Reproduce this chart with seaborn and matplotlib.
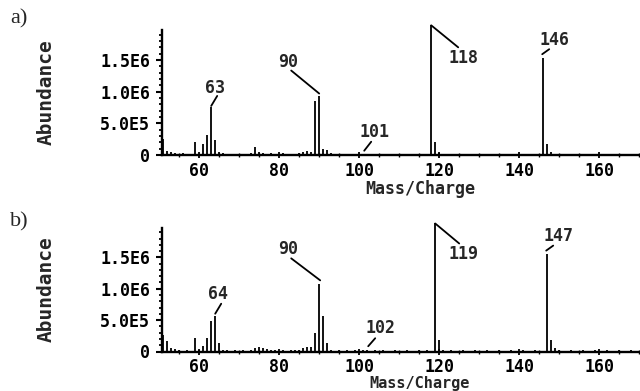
import matplotlib
matplotlib.use("Agg")
import matplotlib.pyplot as plt
import matplotlib.transforms as mtransforms
import seaborn as sns
import numpy as np
import pandas as pd

# ---------------- data ----------------
# panel a) major peaks
mz_a = [51, 59, 61, 62, 63, 64, 65, 74, 75, 86, 87, 88, 89, 90, 91, 92, 101, 118, 119, 146, 147]
ab_a = [2.5e5, 2.0e5, 1.7e5, 3.1e5, 7.6e5, 2.3e5, 0.4e5, 1.2e5, 0.5e5, 0.4e5, 0.6e5, 0.5e5,
        8.6e5, 9.4e5, 1.0e5, 0.8e5, 0.2e5, 2.05e6, 2.0e5, 1.53e6, 1.8e5]
# panel a) small baseline peaks
mz_a_small = [52, 53, 54, 56, 57, 58, 66, 67, 69, 71, 73, 76, 77, 78, 80, 81, 83, 84, 85,
              93, 95, 97, 99, 103, 105, 108, 110, 113, 116, 120, 122, 125, 128, 131,
              134, 137, 140, 143, 148, 151, 154, 157, 160, 163, 166, 169]
ab_a_small = [0.6e5, 0.5e5, 0.3e5, 0.3e5, 0.2e5, 0.2e5, 0.3e5, 0.2e5, 0.2e5, 0.2e5, 0.3e5,
              0.3e5, 0.2e5, 0.3e5, 0.2e5, 0.3e5, 0.2e5, 0.2e5, 0.3e5,
              0.3e5, 0.2e5, 0.2e5, 0.2e5, 0.2e5, 0.2e5, 0.2e5, 0.2e5, 0.2e5, 0.2e5,
              0.3e5, 0.2e5, 0.2e5, 0.2e5, 0.2e5, 0.2e5, 0.2e5, 0.2e5, 0.2e5, 0.4e5,
              0.2e5, 0.2e5, 0.2e5, 0.2e5, 0.2e5, 0.2e5, 0.2e5]

# panel b) major peaks
mz_b = [51, 52, 53, 59, 61, 62, 63, 64, 65, 74, 75, 76, 86, 87, 88, 89, 90, 91, 92, 102,
        119, 120, 147, 148, 149]
ab_b = [2.6e5, 1.7e5, 0.6e5, 2.1e5, 0.9e5, 2.2e5, 4.9e5, 5.7e5, 1.4e5, 0.6e5, 0.7e5, 0.5e5,
        0.6e5, 0.7e5, 0.7e5, 2.9e5, 1.07e6, 5.7e5, 1.3e5, 0.2e5,
        2.04e6, 1.85e5, 1.56e6, 1.85e5, 0.6e5]
mz_b_small = [54, 55, 57, 60, 66, 67, 69, 71, 73, 77, 78, 79, 81, 83, 84, 85, 93, 95, 97,
              99, 101, 104, 106, 109, 112, 115, 117, 121, 123, 126, 129, 132, 135, 138,
              141, 144, 150, 153, 156, 159, 162, 165, 168]
ab_b_small = [0.4e5, 0.3e5, 0.2e5, 0.3e5, 0.3e5, 0.2e5, 0.2e5, 0.2e5, 0.2e5, 0.4e5, 0.3e5,
              0.3e5, 0.2e5, 0.2e5, 0.3e5, 0.3e5, 0.3e5, 0.2e5, 0.2e5,
              0.2e5, 0.2e5, 0.2e5, 0.2e5, 0.2e5, 0.2e5, 0.2e5, 0.2e5, 0.3e5, 0.2e5,
              0.2e5, 0.2e5, 0.2e5, 0.2e5, 0.2e5, 0.2e5, 0.2e5, 0.2e5, 0.2e5, 0.2e5,
              0.2e5, 0.2e5, 0.2e5, 0.2e5]

labels_a = [63, 90, 101, 118, 146]
labels_b = [64, 90, 102, 119, 147]

y_ticks = [0, 5e5, 1e6, 1.5e6]
y_ticklabels = ["0", "5.0E5", "1.0E6", "1.5E6"]
x_ticks = [60, 80, 100, 120, 140, 160]
x_ticklabels = ["60", "80", "100", "120", "140", "160"]
panel_tags = ["a)", "b)"]
x_title = "Mass/Charge"
y_title = "Abundance"

# ---------------- styling (pixel offsets for annotation texts / leader lines) ----
# (text_dx, text_dy, line_start_dx, line_start_dy, line_end_dx, line_end_dy)
ann_style_a = {
    63: (4, 19, 0, 1, 6, 11),
    90: (-31, 34, 0, 2, -28, 25),
    101: (11, 22, 1, 3, 8, 12),
    118: (32, -33, 0, 0, 27, -22),
    146: (11, 18, -1, 4, 6, 9),
}
ann_style_b = {
    64: (3, 22, 0, 2, 6, 12),
    90: (-31, 35, 1, 4, -28, 26),
    102: (13, 22, 1, 4, 8, 12),
    119: (28, -31, 0, 0, 24, -20),
    147: (11, 18, -1, 3, 6, 8),
}

sns.set_style("ticks")
plt.rcParams["font.family"] = ["DejaVu Sans Mono"]
MONO = dict(family="DejaVu Sans Mono", fontweight="bold")

W, H = 640, 391
fig = plt.figure(figsize=(6.4, 3.91), dpi=100)

ylim_top = 1.976e6
x_lo, x_hi = 50.7, 179.7
ax_left = 162 / W
ax_width = (678 - 162) / W

def make_panel(rect, mz, ab, mz_s, ab_s, labels, style, tag, tag_y, xlab_y, xlab_va, xlab_size):
    ax = fig.add_axes(rect)
    df = pd.DataFrame({"mz": list(mz) + list(mz_s), "ab": list(ab) + list(ab_s)})
    ax.vlines(df["mz"], 0, df["ab"], color="black", lw=1.3, clip_on=False)
    ax.set_xlim(x_lo, x_hi)
    ax.set_ylim(0, ylim_top)
    sns.despine(ax=ax, top=True, right=True)
    for s in ["left", "bottom"]:
        ax.spines[s].set_linewidth(1.7)
        ax.spines[s].set_color("black")
    ax.set_yticks(y_ticks)
    ax.set_yticklabels(y_ticklabels, **MONO, fontsize=12)
    ax.set_yticks(np.arange(0, ylim_top, 1e5), minor=True)
    ax.set_xticks(x_ticks)
    ax.set_xticklabels(x_ticklabels, **MONO, fontsize=12)
    ax.set_xticks(np.arange(55, 180, 5), minor=True)
    ax.tick_params(axis="y", which="major", direction="out", length=4.5, width=1.5, pad=4, colors="black")
    ax.tick_params(axis="y", which="minor", direction="out", length=2.5, width=1.3, colors="black")
    ax.tick_params(axis="x", which="major", direction="inout", length=5, width=1.3, pad=2.5, colors="black")
    ax.tick_params(axis="x", which="minor", direction="inout", length=3, width=1.0, colors="black")
    ax.set_ylabel(y_title, **MONO, fontsize=14)
    ax.yaxis.set_label_coords(-0.207, 0.5)
    ax.set_xlabel(x_title, **MONO, fontsize=xlab_size, va=xlab_va)
    ax.xaxis.set_label_coords(0.5, xlab_y)
    ax.set_facecolor("white")

    lookup = dict(zip(mz, ab))
    for m in labels:
        h = lookup[m]
        tdx, tdy, sdx, sdy, edx, edy = style[m]
        start_tr = mtransforms.offset_copy(ax.transData, fig=fig, x=sdx, y=sdy, units="dots")
        ax.annotate("", xy=(m, h), xycoords=start_tr,
                    xytext=(edx - sdx, edy - sdy), textcoords="offset pixels",
                    arrowprops=dict(arrowstyle="-", color="black", lw=1.3,
                                    shrinkA=0, shrinkB=0), annotation_clip=False)
        ax.annotate(str(m), xy=(m, h), xytext=(tdx, tdy), textcoords="offset pixels",
                    ha="center", va="center", fontsize=12, annotation_clip=False, **MONO)
    fig.text(10 / W, 1 - tag_y / H, tag, family="Liberation Serif", fontsize=16,
             ha="left", va="center")
    return ax

ax_a = make_panel([ax_left, 1 - 155 / H, ax_width, 125 / H], mz_a, ab_a, mz_a_small, ab_a_small,
                  labels_a, ann_style_a, panel_tags[0], 19, -0.275, "center", 12)
b_base = 351.5
b_h = 124.0
ax_b = make_panel([ax_left, 1 - b_base / H, ax_width, b_h / H], mz_b, ab_b, mz_b_small, ab_b_small,
                  labels_b, ann_style_b, panel_tags[1], 222, -(H - 0.2 - b_base) / b_h, "bottom", 11)

fig.savefig("out.png", dpi=100, facecolor="white")
